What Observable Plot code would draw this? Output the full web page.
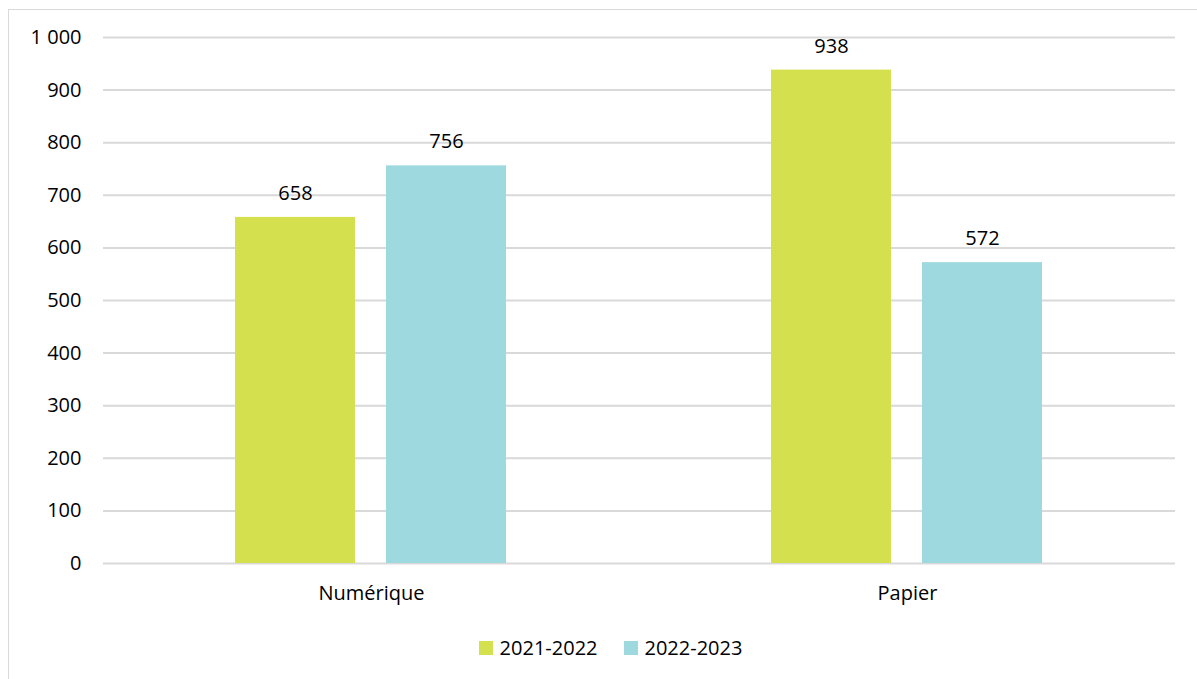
<!DOCTYPE html>
<html>
<head>
<meta charset="utf-8">
<script src="https://cdn.jsdelivr.net/npm/d3@7"></script>
<script src="https://cdn.jsdelivr.net/npm/@observablehq/plot@0.6"></script>
<style>
  html, body { margin: 0; padding: 0; background: #fff; }
  body { width: 1197px; height: 679px; position: relative; overflow: hidden; font-family: "Open Sans", sans-serif; }
  #frame { position: absolute; left: 8px; top: 9px; width: 1200px; height: 700px; border-left: 1px solid #d9d9d9; border-top: 1px solid #d9d9d9; box-sizing: border-box; }
  #chart { position: absolute; left: 0; top: 0; }
  #legend { position: absolute; top: 634px; left: 0; width: 1197px; display: flex; justify-content: center; padding-left: 24px; box-sizing: border-box; font-size: 20px; color: #000; }
  .item { display: flex; align-items: center; margin: 0 13px; }
  .sw { width: 14px; height: 14px; margin-right: 7px; }
</style>
</head>
<body>
<div id="frame"></div>
<div id="chart"></div>
<div id="legend"></div>
<script>
const categories = ["Numérique", "Papier"];
const series = ["2021-2022", "2022-2023"];
const values2021_2022 = [658, 938];
const values2022_2023 = [756, 572];
const yTicks = [0, 100, 200, 300, 400, 500, 600, 700, 800, 900, 1000];
const seriesColors = ["#d4e04d", "#9fd9e0"];

const rows = [];
categories.forEach((c, i) => {
  rows.push({cat: c, series: series[0], value: values2021_2022[i]});
  rows.push({cat: c, series: series[1], value: values2022_2023[i]});
});

const fmt = d3.formatLocale({decimal: ",", thousands: "\u00a0", grouping: [3], currency: ["", "€"]}).format(",");

const chart = Plot.plot({
  width: 1197,
  height: 612,
  marginTop: 37,
  marginBottom: 49,
  marginLeft: 102,
  marginRight: 22,
  style: {fontFamily: "Open Sans, sans-serif", fontSize: "20px", color: "#000", background: "transparent"},
  fx: {domain: categories, padding: 0, label: null, axis: "bottom", tickSize: 0, tickPadding: 22},
  x: {domain: series, paddingInner: 0.204, paddingOuter: 0.867, axis: null},
  y: {domain: [0, 1000], ticks: yTicks, tickFormat: fmt, label: null, tickSize: 0, tickPadding: 22},
  color: {domain: series, range: seriesColors},
  marks: [
    Plot.ruleY(yTicks, {stroke: "#d9d9d9", strokeWidth: 2}),
    Plot.barY(rows, {fx: "cat", x: "series", y: "value", fill: "series"}),
    Plot.text(rows, {fx: "cat", x: "series", y: "value", text: d => String(d.value), dy: -24, fontSize: 20, fill: "#000"})
  ]
});
document.getElementById("chart").appendChild(chart);

const legend = document.getElementById("legend");
series.forEach((s, i) => {
  const it = document.createElement("div");
  it.className = "item";
  const sw = document.createElement("div");
  sw.className = "sw";
  sw.style.background = seriesColors[i];
  const t = document.createElement("span");
  t.textContent = s;
  it.appendChild(sw);
  it.appendChild(t);
  legend.appendChild(it);
});
</script>
</body>
</html>
